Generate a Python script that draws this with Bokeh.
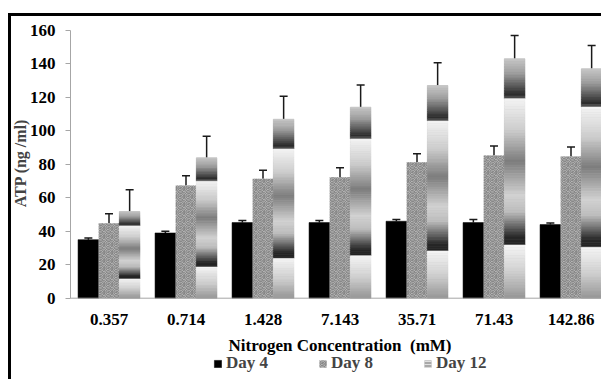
import numpy as np
from bokeh.plotting import figure
from bokeh.models import (ColumnDataSource, FixedTicker, Legend, LegendItem,
                          Whisker, TeeHead, Range1d, Span)
from bokeh.core.properties import value
from bokeh.embed import file_html
from bokeh.resources import INLINE

# ---------------- data ----------------
categories = ["0.357", "0.714", "1.428", "7.143", "35.71", "71.43", "142.86"]
day4 = [35, 39, 45.2, 45.2, 46, 45.2, 44]
day4_err = [1, 1, 1.2, 1.2, 1, 1.8, 1]
day8 = [44.8, 67.4, 71.4, 72.3, 81.3, 85.3, 84.7]
day8_err = [5.6, 5.8, 5.1, 5.6, 5.0, 5.6, 5.6]
day12 = [51.8, 83.9, 107, 114.2, 127.1, 143.1, 137.1]
day12_err = [13, 12.9, 13.7, 13.3, 13.6, 13.9, 13.9]
y_ticks = [0, 20, 40, 60, 80, 100, 120, 140, 160]
series_names = ["Day 4", "Day 8", "Day 12"]
x_title = "Nitrogen Concentration\u00a0\u00a0(mM)"
y_title = "ATP (ng /ml)"

# ---------------- styling / layout ----------------
FONT = "Liberation Serif"
BAR_W = 0.268
OFFS = [-BAR_W, 0.0, BAR_W]
n = len(categories)
centers = np.arange(n) + 0.5
PX_PER_UNIT = 267.7 / 160.0          # vertical pixels per data unit
Y_MIN = -81.3 / PX_PER_UNIT          # room below zero for labels + legend

p = figure(width=601, height=379, output_backend="svg", toolbar_location=None,
           x_range=Range1d(0, 531 / 77), y_range=Range1d(Y_MIN, 160),
           x_axis_location=None,
           min_border_left=70, min_border_right=0, min_border_top=30,
           min_border_bottom=0)
p.outline_line_color = None
p.xgrid.grid_line_color = None
p.ygrid.grid_line_color = None
p.border_fill_alpha = 0
p.background_fill_color = "white"
# black frame lines at top and left of the chart image
p.styles = {
    "background-image": "linear-gradient(black, black), linear-gradient(black, black)",
    "background-size": "3px 100%, 100% 3px",
    "background-position": "8px 13px, 8px 13px",
    "background-repeat": "no-repeat",
}

# Day 4 - solid black
src4 = ColumnDataSource(dict(x=centers + OFFS[0], top=day4,
                             up=np.array(day4) + np.array(day4_err)))
r4 = p.vbar(x="x", top="top", bottom=0, width=BAR_W, source=src4,
            fill_color="black", line_color="black", line_width=0.5)

# Day 8 - speckled texture
src8 = ColumnDataSource(dict(x=centers + OFFS[1], top=day8,
                             up=np.array(day8) + np.array(day8_err)))
r8 = p.vbar(x="x", top="top", bottom=0, width=BAR_W, source=src8,
            fill_color="#b5b5b5", line_color=None, hatch_pattern="spiral",
            hatch_color="#6e6e6e", hatch_scale=8, hatch_weight=1)

# Day 12 - banded gradient
src12 = ColumnDataSource(dict(x=centers + OFFS[2], top=day12,
                              up=np.array(day12) + np.array(day12_err)))
r12 = p.vbar(x="x", top="top", bottom=0, width=BAR_W, source=src12,
             fill_color="#a8a8a8", line_color=None,
             hatch_pattern="horizontal_line", hatch_color="#e0e0e0",
             hatch_scale=3, hatch_weight=1)

grad_t = [0.0, 0.06, 0.145, 0.16, 0.166, 0.30, 0.43, 0.57, 0.64, 0.745, 0.775, 0.781, 0.90, 1.0]
grad_v = [200, 160, 50, 35, 245, 205, 125, 210, 190, 40, 35, 245, 205, 150]
NS = 90
xs_l, xs_r, bots, tops, cols = [], [], [], [], []
for xc, v in zip(centers + OFFS[2], day12):
    for k in range(NS):
        t0, t1 = k / NS, (k + 1) / NS
        g = int(np.interp((t0 + t1) / 2, grad_t, grad_v))
        xs_l.append(float(xc - BAR_W / 2))
        xs_r.append(float(xc + BAR_W / 2))
        tops.append(v * (1 - t0))
        bots.append(v * (1 - t1))
        cols.append("#%02x%02x%02x" % (g, g, g))
p.quad(left=xs_l, right=xs_r, bottom=bots, top=tops, fill_color=cols,
       line_color=cols, line_width=0.6)

# error bars (upper only)
for src in (src4, src8, src12):
    w = Whisker(base="x", lower="top", upper="up", source=src,
                line_color="#1a1a1a", line_width=1.5,
                upper_head=TeeHead(size=8, line_color="#1a1a1a", line_width=1.5),
                lower_head=None)
    p.add_layout(w)

# x axis (line at zero, category labels and title underneath)
p.add_layout(Span(location=0, dimension="width", line_color="#a6a6a6",
                  line_width=1))
p.text(x=list(centers), y=[-21.3 / PX_PER_UNIT] * n, text=categories,
       text_font=value(FONT), text_font_style="bold", text_font_size="17px",
       text_color="black", text_align="center", text_baseline="middle")
p.text(x=[n / 2], y=[-47.3 / PX_PER_UNIT], text=[x_title],
       text_font=value(FONT), text_font_style="bold", text_font_size="17px",
       text_color="black", text_align="center", text_baseline="middle")

# y axis (title padded so that it centres on the 0-160 span)
p.yaxis.ticker = FixedTicker(ticks=y_ticks)
p.yaxis.bounds = (0, 160)
p.yaxis.minor_tick_line_color = None
p.yaxis.axis_line_color = "#a6a6a6"
p.yaxis.major_tick_line_color = "#a6a6a6"
p.yaxis.major_tick_out = 5
p.yaxis.major_tick_in = 0
p.yaxis.major_label_standoff = 10
p.yaxis.major_label_text_font = FONT
p.yaxis.major_label_text_font_style = "bold"
p.yaxis.major_label_text_font_size = "17px"
p.yaxis.major_label_text_color = "black"
p.yaxis.axis_label = "\u00a0" * 21 + y_title
p.yaxis.axis_label_text_font = FONT
p.yaxis.axis_label_text_font_style = "bold"
p.yaxis.axis_label_text_font_size = "16px"
p.yaxis.axis_label_standoff = -2

legend = Legend(items=[LegendItem(label=series_names[0], renderers=[r4]),
                       LegendItem(label=series_names[1], renderers=[r8]),
                       LegendItem(label=series_names[2], renderers=[r12])],
                orientation="horizontal", location=(143, 6),
                glyph_width=9, glyph_height=9, label_standoff=4, spacing=50,
                padding=0, margin=0, border_line_color=None,
                background_fill_alpha=0, label_text_font=FONT,
                label_text_font_style="bold", label_text_font_size="17px",
                label_height=16)
p.add_layout(legend, "center")

open("out.html", "w").write(file_html(p, INLINE))
